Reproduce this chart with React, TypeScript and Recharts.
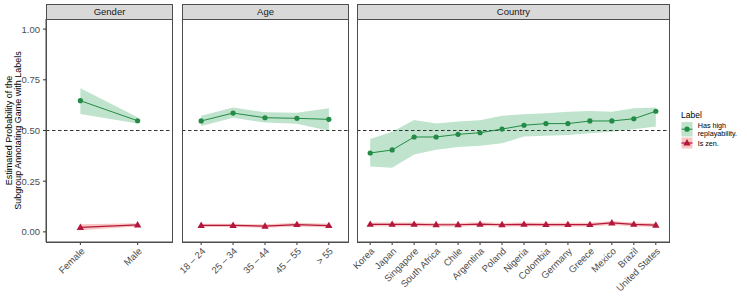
import { ComposedChart, Area, Line, XAxis, YAxis, ReferenceLine } from "recharts";

const FONT = "'Liberation Sans', Arial, sans-serif";

const GENDER = ["Female", "Male"];
const GENDER_HIGH = [0.647, 0.548];
const GENDER_HIGH_LO = [0.581, 0.535];
const GENDER_HIGH_HI = [0.708, 0.565];
const GENDER_ZEN = [0.022, 0.034];
const GENDER_ZEN_LO = [0.008, 0.026];
const GENDER_ZEN_HI = [0.038, 0.043];

const AGE = ["18 – 24", "25 – 34", "35 – 44", "45 – 55", "> 55"];
const AGE_HIGH = [0.547, 0.586, 0.563, 0.56, 0.555];
const AGE_HIGH_LO = [0.522, 0.563, 0.539, 0.533, 0.499];
const AGE_HIGH_HI = [0.573, 0.613, 0.59, 0.588, 0.61];
const AGE_ZEN = [0.032, 0.032, 0.028, 0.036, 0.031];
const AGE_ZEN_LO = [0.024, 0.024, 0.02, 0.027, 0.022];
const AGE_ZEN_HI = [0.04, 0.04, 0.037, 0.045, 0.04];

const COUNTRY = [
  "Korea", "Japan", "Singapore", "South Africa", "Chile", "Argentina", "Poland",
  "Nigeria", "Colombia", "Germany", "Greece", "Mexico", "Brazil", "United States",
];
const COUNTRY_HIGH = [0.389, 0.404, 0.468, 0.468, 0.481, 0.489, 0.507, 0.526, 0.534, 0.534, 0.547, 0.547, 0.558, 0.595];
const COUNTRY_HIGH_LO = [0.323, 0.316, 0.382, 0.405, 0.418, 0.425, 0.437, 0.47, 0.474, 0.478, 0.486, 0.494, 0.506, 0.52];
const COUNTRY_HIGH_HI = [0.458, 0.494, 0.552, 0.534, 0.545, 0.551, 0.573, 0.58, 0.585, 0.593, 0.596, 0.593, 0.61, 0.613];
const COUNTRY_ZEN = [0.037, 0.037, 0.037, 0.035, 0.035, 0.038, 0.035, 0.037, 0.036, 0.036, 0.036, 0.044, 0.037, 0.033];
const COUNTRY_ZEN_LO = [0.028, 0.028, 0.028, 0.026, 0.026, 0.029, 0.026, 0.028, 0.027, 0.027, 0.027, 0.034, 0.028, 0.024];
const COUNTRY_ZEN_HI = [0.046, 0.046, 0.046, 0.044, 0.044, 0.047, 0.044, 0.046, 0.045, 0.045, 0.045, 0.054, 0.046, 0.042];

const Y_TICKS = [0, 0.25, 0.5, 0.75, 1];

const GREEN = "#238b45";
const GREEN_BAND = "#bfe3cc";
const RED = "#b3173d";
const RED_BAND = "#f8c7c1";
const BORDER = "#4d4d4d";

const PLOT_TOP = 19;
const PLOT_BOTTOM = 242;
const H = 299;

function rows(cats, high, hlo, hhi, zen, zlo, zhi) {
  return cats.map((c, i) => ({
    i, cat: c, high: high[i], highBand: [hlo[i], hhi[i]], zen: zen[i], zenBand: [zlo[i], zhi[i]],
  }));
}

const circleDot = (p) => <circle key={`c${p.index}`} cx={p.cx} cy={p.cy} r={2.6} fill={GREEN} />;
const triDot = (p) => (
  <path key={`t${p.index}`} fill={RED}
    d={`M${p.cx},${p.cy - 3.9} L${p.cx + 3.7},${p.cy + 2.5} L${p.cx - 3.7},${p.cy + 2.5} Z`} />
);

function Facet({ title, cats, data, left, width, showY }) {
  const yW = showY ? 46 : 0;
  const n = cats.length;
  const idx = cats.map((_, i) => i);
  return (
    <>
      <div style={{
        position: "absolute", left: left + yW, top: 4, width: width - 1, height: PLOT_TOP - 5,
        background: "#d9d9d9", border: `1px solid ${BORDER}`, fontFamily: FONT, fontSize: 9.5,
        color: "#1a1a1a", textAlign: "center", lineHeight: `${PLOT_TOP - 5}px`,
      }}>{title}</div>
      <div style={{ position: "absolute", left, top: 0 }}>
        <ComposedChart width={width + yW} height={H} data={data}
          margin={{ top: PLOT_TOP, right: 0, bottom: 0, left: 0 }}>
          <XAxis type="number" dataKey="i" domain={[-0.6, n - 0.4]} ticks={idx} interval={0}
            allowDataOverflow tickFormatter={(v) => cats[v]} height={H - PLOT_BOTTOM}
            tickSize={3} tickMargin={2} angle={-45} textAnchor="end"
            axisLine={{ stroke: BORDER }} tickLine={{ stroke: "#333" }}
            tick={{ fill: "#4d4d4d", fontSize: 9.5, fontFamily: FONT }} />
          <YAxis type="number" domain={[-0.05, 1.05]} ticks={Y_TICKS} allowDataOverflow
            hide={!showY} width={yW} tickSize={3} tickMargin={3}
            tickFormatter={(v) => v.toFixed(2)} axisLine={{ stroke: BORDER }} tickLine={{ stroke: "#333" }}
            tick={{ fill: "#4d4d4d", fontSize: 9.5, fontFamily: FONT }} />
          <Area dataKey="highBand" type="linear" stroke="none" fill={GREEN_BAND} fillOpacity={1}
            isAnimationActive={false} dot={false} activeDot={false} />
          <Area dataKey="zenBand" type="linear" stroke="none" fill={RED_BAND} fillOpacity={1}
            isAnimationActive={false} dot={false} activeDot={false} />
          <ReferenceLine y={0.5} stroke="#333" strokeDasharray="3.5 2.5" strokeWidth={1} />
          <Line dataKey="high" type="linear" stroke={GREEN} strokeWidth={1} dot={circleDot}
            activeDot={false} isAnimationActive={false} />
          <Line dataKey="zen" type="linear" stroke={RED} strokeWidth={1.2} dot={triDot}
            activeDot={false} isAnimationActive={false} />
        </ComposedChart>
      </div>
      <div style={{
        position: "absolute", left: left + yW, top: PLOT_TOP, width: width - 1,
        height: PLOT_BOTTOM - PLOT_TOP - 1, border: `1px solid ${BORDER}`, pointerEvents: "none",
      }} />
    </>
  );
}

export default function App() {
  return (
    <div style={{ position: "absolute", left: 0, top: 0, width: 747, height: 299, background: "#fff" }}>
      <style>{`.recharts-surface{overflow:visible}.recharts-wrapper{overflow:visible}`}</style>
      <Facet title="Gender" cats={GENDER} left={0} width={126} showY
        data={rows(GENDER, GENDER_HIGH, GENDER_HIGH_LO, GENDER_HIGH_HI, GENDER_ZEN, GENDER_ZEN_LO, GENDER_ZEN_HI)} />
      <Facet title="Age" cats={AGE} left={182} width={166}
        data={rows(AGE, AGE_HIGH, AGE_HIGH_LO, AGE_HIGH_HI, AGE_ZEN, AGE_ZEN_LO, AGE_ZEN_HI)} />
      <Facet title="Country" cats={COUNTRY} left={357} width={312}
        data={rows(COUNTRY, COUNTRY_HIGH, COUNTRY_HIGH_LO, COUNTRY_HIGH_HI, COUNTRY_ZEN, COUNTRY_ZEN_LO, COUNTRY_ZEN_HI)} />
      <svg width={747} height={299} style={{ position: "absolute", left: 0, top: 0, pointerEvents: "none" }}
        fontFamily={FONT}>
        <g transform="rotate(-90, 11.5, 130.5)">
          <text x={11.5} y={130.5} fontSize={9} textAnchor="middle" fill="#000">Estimated Probability of the</text>
        </g>
        <g transform="rotate(-90, 20.5, 130.5)">
          <text x={20.5} y={130.5} fontSize={9} textAnchor="middle" fill="#000">Subgroup Annotating Game with Labels</text>
        </g>
        <text x={681} y={117.5} fontSize={8.5} fill="#000">Label</text>
        <rect x={681.5} y={122} width={11} height={14.5} fill={GREEN_BAND} />
        <line x1={681.5} x2={692.5} y1={129.2} y2={129.2} stroke={GREEN} strokeWidth={1} />
        <circle cx={687} cy={129.2} r={2.6} fill={GREEN} />
        <rect x={681.5} y={137.5} width={11} height={11} fill={RED_BAND} />
        <line x1={681.5} x2={692.5} y1={143} y2={143} stroke={RED} strokeWidth={1.2} />
        <path d="M687,139.1 L690.7,145.5 L683.3,145.5 Z" fill={RED} />
        <text x={697.7} y={128.1} fontSize={7.2} fill="#000">Has high</text>
        <text x={697.7} y={136.4} fontSize={7.2} fill="#000">replayability.</text>
        <text x={697.7} y={146.3} fontSize={7.2} fill="#000">Is zen.</text>
      </svg>
    </div>
  );
}
